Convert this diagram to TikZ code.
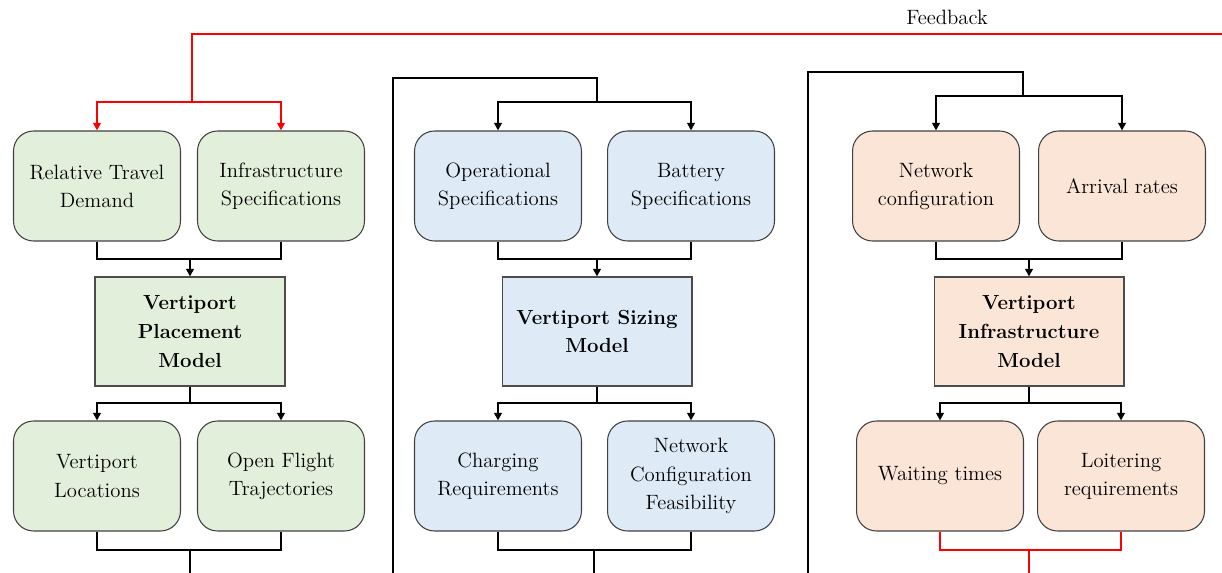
\documentclass[tikz,border=0pt]{standalone}
\usetikzlibrary{arrows.meta}
\begin{document}
\begin{tikzpicture}[x=0.02cm,y=-0.02cm,
   font=\fontsize{11.8}{16}\selectfont,
   inbox/.style={draw=black!75,line width=0.6pt,rounded corners=4mm,align=center,
    minimum width=3.34cm,minimum height=2.2cm,inner sep=2pt},
   modelbox/.style={draw=black!70,line width=0.6pt,align=center,font=\fontsize{11.6}{16.4}\selectfont\bfseries,
    minimum width=3.8cm,minimum height=2.18cm,inner sep=2pt},
   conn/.style={line width=1.1pt,black},
   fb/.style={line width=1.1pt,red},
   tip/.style={-{Triangle[length=1.5mm,width=1.5mm]}}]
   \definecolor{placecolor}{HTML}{E2EFDA}
   \definecolor{sizecolor}{HTML}{DEEBF7}
   \definecolor{infracolor}{HTML}{FBE5D6}
   \useasboundingbox (0,0) rectangle (1222,573);
   % placement model
   \node [inbox,fill=placecolor] (rtd) at (97,186) {Relative Travel\\Demand};
   \node [inbox,fill=placecolor] (isp) at (281,186) {Infrastructure\\Specifications};
   \node [modelbox,fill=placecolor] (pm) at (190,331.5) {Vertiport\\Placement\\Model};
   \node [inbox,fill=placecolor] (vl) at (97,476) {Vertiport\\Locations};
   \node [inbox,fill=placecolor] (oft) at (281,476) {Open Flight\\Trajectories};
   % sizing model
   \node [inbox,fill=sizecolor] (ops) at (498,186) {Operational\\Specifications};
   \node [inbox,fill=sizecolor] (bat) at (691,186) {Battery\\Specifications};
   \node [modelbox,fill=sizecolor] (sm) at (597,331.5) {Vertiport Sizing\\Model};
   \node [inbox,fill=sizecolor] (chg) at (498,476) {Charging\\Requirements};
   \node [inbox,fill=sizecolor] (ncf) at (691,476) {Network\\Configuration\\Feasibility};
   % infrastructure model
   \node [inbox,fill=infracolor] (nc) at (936,186) {Network\\configuration};
   \node [inbox,fill=infracolor] (ar) at (1122,186) {Arrival rates};
   \node [modelbox,fill=infracolor] (im) at (1029,331.5) {Vertiport\\Infrastructure\\Model};
   \node [inbox,fill=infracolor] (wt) at (940,476) {Waiting times};
   \node [inbox,fill=infracolor] (lr) at (1121,476) {Loitering\\requirements};
   \node (fblabel) at (947,17) {Feedback};
   % joins
   \coordinate (pin) at (190,259);
   \coordinate (pout) at (190,403);
   \coordinate (pend) at (190,550);
   \coordinate (sin) at (597,102);
   \coordinate (sin2) at (597,78);
   \coordinate (sl1) at (393,573.6);
   \coordinate (sl2) at (393,78);
   \coordinate (pj) at (597,259);
   \coordinate (sout) at (597,403);
   \coordinate (send) at (594,550);
   \coordinate (iin) at (1023,96);
   \coordinate (iin2) at (1023,72);
   \coordinate (il1) at (808,573.6);
   \coordinate (il2) at (808,72);
   \coordinate (ij) at (1029,259);
   \coordinate (iout) at (1029,403);
   \coordinate (iend) at (1029,550);
   \coordinate (fb1) at (1029,573.6);
   \coordinate (fb2) at (1223.5,573.6);
   \coordinate (fb3) at (1223.5,34);
   \coordinate (fb4) at (192,34);
   \coordinate (fbj) at (192,102);
   % placement connectors
   \draw [conn] (rtd.south) |- (pin) -| (isp.south);
   \draw [conn,tip] (pin) -- (pm.north);
   \draw [conn] (pm.south) -- (pout);
   \draw [conn,tip] (pout) -| (vl.north);
   \draw [conn,tip] (pout) -| (oft.north);
   \draw [conn] (vl.south) |- (pend) -| (oft.south);
   \draw [conn] (pend) |- (sl1) -- (sl2) -- (sin2) -- (sin);
   % sizing connectors
   \draw [conn,tip] (sin) -| (ops.north);
   \draw [conn,tip] (sin) -| (bat.north);
   \draw [conn] (ops.south) |- (pj) -| (bat.south);
   \draw [conn,tip] (pj) -- (sm.north);
   \draw [conn] (sm.south) -- (sout);
   \draw [conn,tip] (sout) -| (chg.north);
   \draw [conn,tip] (sout) -| (ncf.north);
   \draw [conn] (chg.south) |- (send) -| (ncf.south);
   \draw [conn] (send) |- (il1) -- (il2) -- (iin2) -- (iin);
   % infrastructure connectors
   \draw [conn,tip] (iin) -| (nc.north);
   \draw [conn,tip] (iin) -| (ar.north);
   \draw [conn] (nc.south) |- (ij) -| (ar.south);
   \draw [conn,tip] (ij) -- (im.north);
   \draw [conn] (im.south) -- (iout);
   \draw [conn,tip] (iout) -| (wt.north);
   \draw [conn,tip] (iout) -| (lr.north);
   % feedback
   \draw [fb] (wt.south) |- (iend) -| (lr.south);
   \draw [fb] (iend) -- (fb1) -- (fb2) -- (fb3) -- (fb4) -- (fbj);
   \draw [fb,tip] (fbj) -| (rtd.north);
   \draw [fb,tip] (fbj) -| (isp.north);
  \end{tikzpicture}
\end{document}
